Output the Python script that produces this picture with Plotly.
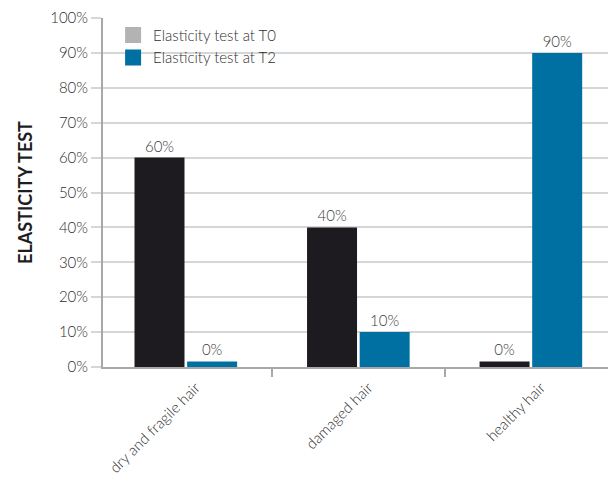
import plotly.graph_objects as go

categories = ["dry and fragile hair", "damaged hair", "healthy hair"]
t0_values = [60, 40, 0]
t2_values = [0, 10, 90]
series_names = ["Elasticity test at T0", "Elasticity test at T2"]
bar_colors = ["#1d1b20", "#0070a3"]
legend_colors = ["#b3b3b3", "#0070a3"]
y_ticks = list(range(0, 101, 10))
y_tick_labels = [f"{v}%" for v in y_ticks]

MIN_VISIBLE = 1.6  # zero values are drawn as a thin sliver, like the reference

FONT = "Lato"
LIGHT = 300
TEXT_COLOR = "#2e2e2e"

fig = go.Figure()
for name, vals, col in zip(series_names, [t0_values, t2_values], bar_colors):
    fig.add_trace(go.Bar(
        x=categories,
        y=[max(v, MIN_VISIBLE) for v in vals],
        text=[f"{v}%" for v in vals],
        textposition="outside",
        textfont=dict(family=FONT, size=15, color="#3a3a3a", weight=LIGHT),
        cliponaxis=False,
        marker=dict(color=col, line=dict(width=0)),
        name=name,
        showlegend=False,
        hoverinfo="skip",
    ))

for name, col in zip(series_names, legend_colors):
    fig.add_trace(go.Scatter(
        x=[None], y=[None], mode="markers", name=name,
        marker=dict(symbol="square", size=17, color=col),
        showlegend=True,
    ))

fig.update_layout(
    width=608, height=478,
    margin=dict(l=103, r=0, t=18, b=111, autoexpand=False),
    paper_bgcolor="white", plot_bgcolor="white",
    barmode="group", bargap=0.39, bargroupgap=0.05,
    font=dict(family=FONT, color=TEXT_COLOR),
    legend=dict(
        x=0.02, y=0.998, xanchor="left", yanchor="top",
        bgcolor="rgba(0,0,0,0)",
        font=dict(family=FONT, size=15, color=TEXT_COLOR, weight=LIGHT),
        itemsizing="trace", tracegroupgap=0, itemwidth=30,
    ),
)

fig.update_yaxes(
    range=[0, 100], automargin=False,
    tickvals=y_ticks, ticktext=y_tick_labels,
    tickfont=dict(family=FONT, size=15, color=TEXT_COLOR, weight=LIGHT),
    showgrid=True, gridcolor="#d6d6d6", gridwidth=2,
    showline=True, linecolor="#a8a8a8", linewidth=2,
    ticks="outside", ticklen=10, tickcolor="#d6d6d6", tickwidth=2,
    zeroline=False,
    title=dict(text="<b>ELASTICITY TEST</b>", font=dict(family=FONT, size=18, color="#1e1e1e"), standoff=13),
)
fig.update_xaxes(
    categoryorder="array", categoryarray=categories, automargin=False,
    range=[-0.48, 2.447],
    tickangle=-45,
    tickfont=dict(family=FONT, size=15, color=TEXT_COLOR, weight=LIGHT),
    ticklabelshift=10, ticklabelstandoff=4,
    showline=True, linecolor="#a8a8a8", linewidth=2,
    tickson="boundaries", ticks="outside", ticklen=8, tickcolor="#a8a8a8", tickwidth=2,
    showgrid=False,
)

fig.write_html(
    "out.html",
    config={"displayModeBar": False},
    post_script="document.body.style.margin='0';document.body.style.overflow='hidden';",
)
